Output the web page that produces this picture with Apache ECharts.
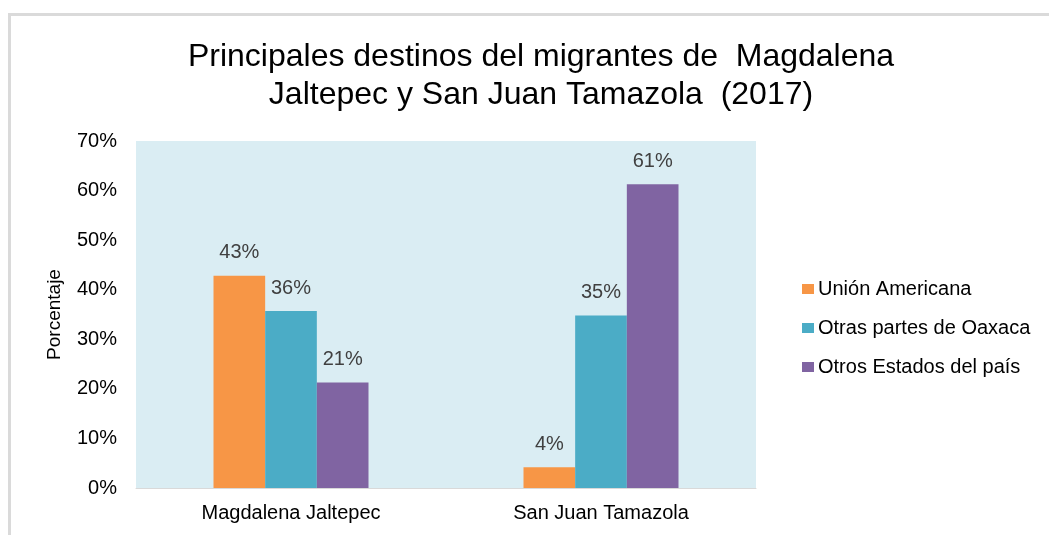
<!DOCTYPE html>
<html lang="es">
  <head>
    <meta charset="UTF-8" />
    <title>Principales destinos del migrantes</title>
    <script src="https://cdn.jsdelivr.net/npm/echarts@6/dist/echarts.min.js"></script>
    <style>
      body { margin: 0; background: #fff; }
    </style>
  </head>

  <body>
    <div id="main" style="width: 1049px; height: 535px"></div>

    <script type="text/javascript">
      // data (percent)
      const categories = ["Magdalena Jaltepec", "San Juan Tamazola"];
      const seriesNames = ["Unión Americana", "Otras partes de Oaxaca", "Otros Estados del país"];
      const unionAmericana = [42.8, 4.2];
      const otrasPartesOaxaca = [35.7, 34.8];
      const otrosEstados = [21.3, 61.3];
      const yTicks = [0, 10, 20, 30, 40, 50, 60, 70];

      const colors = ["#F79646", "#4BACC6", "#8064A2"];
      const font = "Liberation Sans, Arial, sans-serif";

      function barSeries(name, data, color) {
        return {
          name: name,
          type: "bar",
          data: data,
          barGap: "0%",
          barCategoryGap: "50%",
          itemStyle: { color: color },
          label: {
            show: true,
            position: "top",
            distance: 13,
            color: "#404040",
            fontFamily: font,
            fontSize: 20,
            formatter: (p) => Math.round(p.value) + "%",
          },
        };
      }

      let myChart = echarts.init(document.getElementById("main"));

      let options = {
        animation: false,
        backgroundColor: "#fff",
        title: {
          text: "Principales destinos del migrantes de  Magdalena\nJaltepec y San Juan Tamazola  (2017)",
          left: 536,
          top: 33,
          textAlign: "center",
          textStyle: {
            fontFamily: font,
            fontSize: 32,
            fontWeight: "normal",
            color: "#000",
            lineHeight: 38,
          },
        },
        legend: {
          orient: "vertical",
          left: 797,
          top: 274,
          itemWidth: 12,
          itemHeight: 10,
          itemGap: 19,
          icon: "rect",
          textStyle: { fontFamily: font, fontSize: 20, color: "#000", padding: [0, 0, 0, -1] },
          data: seriesNames,
        },
        grid: { left: 136, right: 293, top: 141, bottom: 47, containLabel: false },
        xAxis: {
          type: "category",
          data: categories,
          axisLine: { lineStyle: { color: "#D9D9D9", width: 1 } },
          axisTick: { show: false },
          axisLabel: { fontFamily: font, fontSize: 20, color: "#000", margin: 15 },
          splitArea: { show: false },
        },
        yAxis: {
          type: "value",
          min: yTicks[0],
          max: yTicks[yTicks.length - 1],
          interval: 10,
          name: "Porcentaje",
          nameLocation: "middle",
          nameGap: 72,
          nameRotate: 90,
          nameTextStyle: { fontFamily: font, fontSize: 19, color: "#000" },
          axisLine: { show: false },
          axisTick: { show: false },
          splitLine: { show: false },
          axisLabel: {
            fontFamily: font,
            fontSize: 20,
            color: "#000",
            margin: 19,
            formatter: (v) => v + "%",
          },
        },
        graphic: [
          // plot area background
          {
            type: "rect",
            left: 136,
            top: 141,
            shape: { width: 620, height: 347 },
            style: { fill: "#DAEDF3" },
            z: -1,
          },
          // frame lines of the original picture
          { type: "rect", left: 8, top: 13, shape: { width: 1041, height: 3 }, style: { fill: "#DADADA" } },
          { type: "rect", left: 8, top: 13, shape: { width: 3, height: 522 }, style: { fill: "#DADADA" } },
        ],
        series: [
          barSeries(seriesNames[0], unionAmericana, colors[0]),
          barSeries(seriesNames[1], otrasPartesOaxaca, colors[1]),
          barSeries(seriesNames[2], otrosEstados, colors[2]),
        ],
      };

      myChart.setOption(options);
    </script>
  </body>
</html>
